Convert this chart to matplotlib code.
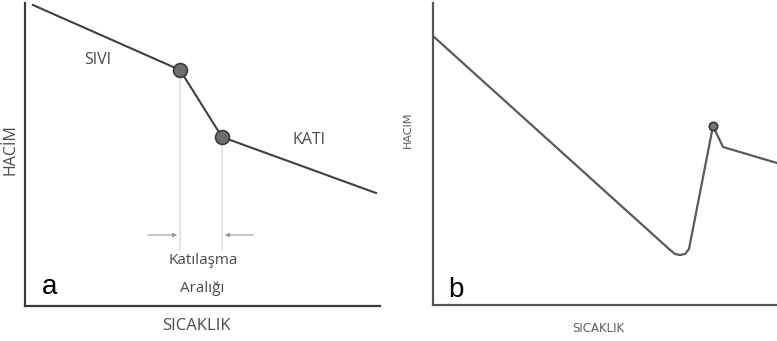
import matplotlib
matplotlib.use("Agg")
import matplotlib.pyplot as plt

# Panel a: volume vs temperature with solidification range
a_temp = [8, 155, 197, 351]
a_vol = [301, 236, 169, 113]
a_marker_temp = [155, 197]
a_marker_vol = [236, 169]

# Panel b: volume vs temperature (undercooling / recalescence)
b_temp = [0, 236, 242, 247, 252, 256, 280, 290, 344]
b_vol = [269, 56, 51, 50, 51, 56, 179, 158, 142]
b_peak_temp = [280]
b_peak_vol = [179]

W, H = 777, 341
fig = plt.figure(figsize=(W / 100, H / 100), dpi=100)
plt.rcParams['font.family'] = ['Open Sans', 'DejaVu Sans']

def px_axes(left, top, right, bottom):
    return fig.add_axes([left / W, 1 - bottom / H, (right - left) / W, (bottom - top) / H])

# ---------- panel a ----------
ax = px_axes(25, 3, 380, 306)
ax.set_xlim(0, 355)
ax.set_ylim(0, 303)
for s in ['top', 'right']:
    ax.spines[s].set_visible(False)
for s in ['left', 'bottom']:
    ax.spines[s].set_linewidth(1.6)
    ax.spines[s].set_color('#3a3a3a')
ax.set_xticks([]); ax.set_yticks([])
ax.patch.set_alpha(0)

for t, v in zip(a_marker_temp, a_marker_vol):
    ax.plot([t, t], [v, 56], color='#e2e2e2', lw=1.3, zorder=1)
ax.plot(a_temp, a_vol, color='#404040', lw=1.5, zorder=2)
ax.plot(a_marker_temp, a_marker_vol, 'o', ms=10, mfc='#6e6e6e', mec='#3a3a3a', mew=1.2, zorder=3)

ax.annotate('', xy=(a_marker_temp[0], 71), xytext=(120, 71),
            arrowprops=dict(arrowstyle='-|>', color='#9a9a9a', lw=0.8, mutation_scale=6))
ax.annotate('', xy=(a_marker_temp[1], 71), xytext=(231, 71),
            arrowprops=dict(arrowstyle='-|>', color='#9a9a9a', lw=0.8, mutation_scale=6))

tc = '#4a4a4a'
ax.text(73, 246, 'SIVI', fontsize=11.5, color=tc, ha='center', va='center')
ax.text(284, 166, 'KATI', fontsize=11.5, color=tc, ha='center', va='center')
ax.text(178, 45, 'Katılaşma', fontsize=11, color=tc, ha='center', va='center')
ax.text(177, 18, 'Aralığı', fontsize=11, color=tc, ha='center', va='center')
ax.text(25, 19, 'a', fontsize=20, color='black', ha='center', va='center', family='Liberation Sans')
ax.text(171, -20, 'SICAKLIK', fontsize=12, color=tc, ha='center', va='center', clip_on=False)
ax.text(-14, 156, 'HACİM', fontsize=11.5, color=tc, ha='center', va='center', rotation=90, clip_on=False)

# ---------- panel b ----------
bx = px_axes(433, 3, 777, 305)
bx.set_xlim(0, 344)
bx.set_ylim(0, 302)
for s in ['top', 'right']:
    bx.spines[s].set_visible(False)
for s in ['left', 'bottom']:
    bx.spines[s].set_linewidth(1.6)
    bx.spines[s].set_color('#555555')
bx.set_xticks([]); bx.set_yticks([])
bx.patch.set_alpha(0)

bx.plot(b_temp, b_vol, color='#5a5a5a', lw=1.6, solid_joinstyle='round', zorder=2)
bx.plot(b_peak_temp, b_peak_vol, 'o', ms=6, mfc='#777777', mec='#333333', mew=1.2, zorder=3)

tc2 = '#5e5e5e'
bx.text(23, 15, 'b', fontsize=20, color='black', ha='center', va='center', family='Liberation Sans')
bx.text(165, -24, 'SICAKLIK', fontsize=8.5, color=tc2, ha='center', va='center', clip_on=False,
        family='DejaVu Sans')
bx.text(-25, 175, 'HACIM', fontsize=8, color=tc2, ha='center', va='center', rotation=90, clip_on=False,
        family='DejaVu Sans')

fig.savefig('out.png', dpi=100)
